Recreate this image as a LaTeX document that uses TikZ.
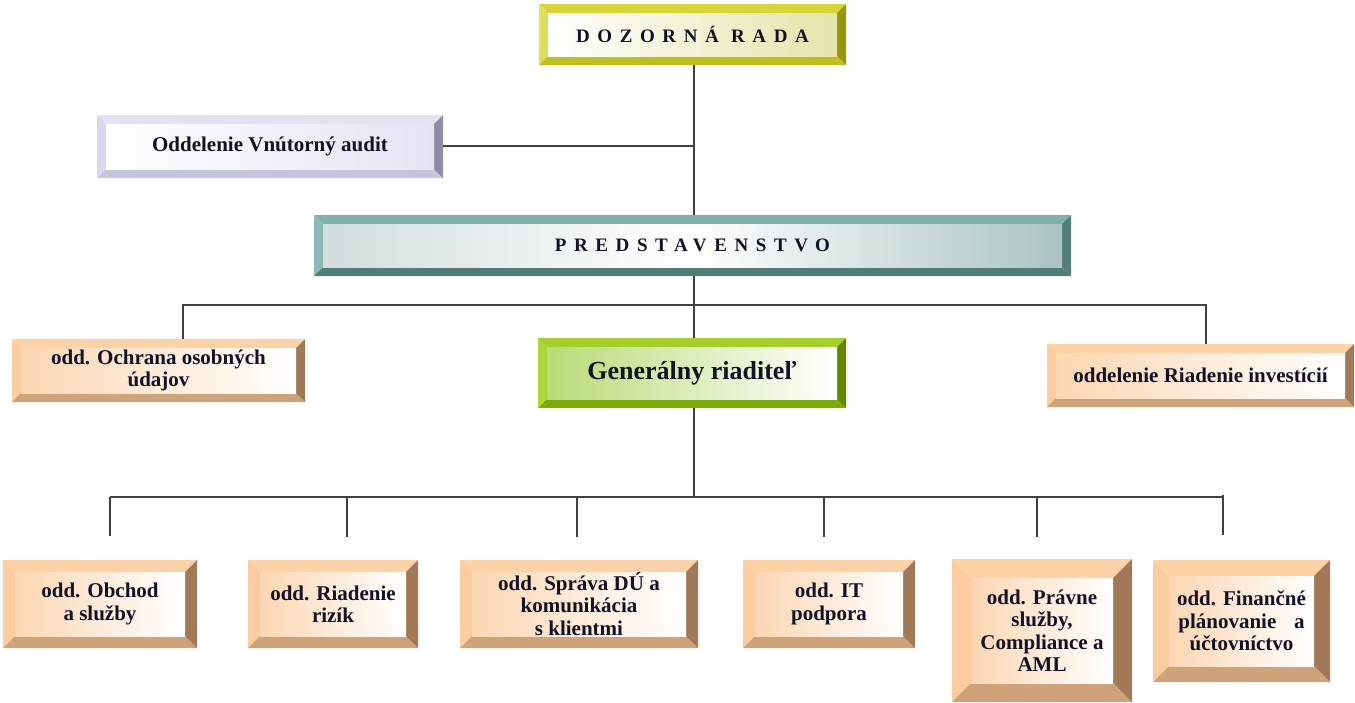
\documentclass[tikz,border=0pt]{standalone}
\usepackage{fontspec}
\setmainfont{Liberation Serif}
\newfontfamily\spacedfont[LetterSpace=40]{Liberation Serif}
\usetikzlibrary{calc}
\definecolor{txt}{RGB}{18,18,38}
\definecolor{lc}{RGB}{64,64,64}
% yellow-olive
\definecolor{yT}{RGB}{214,214,58}
\definecolor{yL}{RGB}{222,222,90}
\definecolor{yR}{RGB}{150,150,12}
\definecolor{yB}{RGB}{190,190,28}
\definecolor{yS}{RGB}{228,228,170}
% lavender
\definecolor{lT}{RGB}{226,226,242}
\definecolor{lL}{RGB}{216,216,236}
\definecolor{lR}{RGB}{140,140,166}
\definecolor{lB}{RGB}{196,196,222}
\definecolor{lS}{RGB}{228,228,244}
% teal
\definecolor{tT}{RGB}{130,176,171}
\definecolor{tL}{RGB}{142,184,179}
\definecolor{tR}{RGB}{86,126,121}
\definecolor{tB}{RGB}{82,124,119}
\definecolor{tS}{RGB}{210,222,220}
\definecolor{tS2}{RGB}{170,196,193}
% green
\definecolor{gT}{RGB}{166,206,42}
\definecolor{gL}{RGB}{176,212,62}
\definecolor{gR}{RGB}{96,136,0}
\definecolor{gB}{RGB}{126,170,12}
\definecolor{gS}{RGB}{186,218,120}
% orange
\definecolor{oT}{RGB}{252,210,166}
\definecolor{oL}{RGB}{250,204,160}
\definecolor{oR}{RGB}{160,122,88}
\definecolor{oB}{RGB}{206,163,122}
\definecolor{oS}{RGB}{252,214,178}
\begin{document}
\begin{tikzpicture}[x=1pt,y=-1pt,
  bevw/.store in=\bevw, bevw=9pt,
  bevbox/.style={fill=white, draw=none, inner sep=0pt, align=center, text=txt,
    path picture={
      \coordinate (pNW) at (path picture bounding box.north west);
      \coordinate (pNE) at (path picture bounding box.north east);
      \coordinate (pSW) at (path picture bounding box.south west);
      \coordinate (pSE) at (path picture bounding box.south east);
      \coordinate (iNW) at ([shift={(\bevw,-\bevw)}]pNW);
      \coordinate (iNE) at ([shift={(-\bevw,-\bevw)}]pNE);
      \coordinate (iSW) at ([shift={(\bevw,\bevw)}]pSW);
      \coordinate (iSE) at ([shift={(-\bevw,\bevw)}]pSE);
      \fill[bevT] (pNW)--(pNE)--(iNE)--(iNW)--cycle;
      \fill[bevL] (pNW)--(iNW)--(iSW)--(pSW)--cycle;
      \fill[bevB] (pSW)--(iSW)--(iSE)--(pSE)--cycle;
      \fill[bevR] (pNE)--(pSE)--(iSE)--(iNE)--cycle;
      \shade[bevS] (iNW) rectangle (iSE);
    }},
  yel/.style={bevT/.style={fill=yT}, bevL/.style={fill=yL}, bevR/.style={fill=yR}, bevB/.style={fill=yB}, bevS/.style={left color=white, right color=yS}},
  lav/.style={bevT/.style={fill=lT}, bevL/.style={fill=lL}, bevR/.style={fill=lR}, bevB/.style={fill=lB}, bevS/.style={left color=white, right color=lS}},
  teal/.style={bevT/.style={fill=tT}, bevL/.style={fill=tL}, bevR/.style={fill=tR}, bevB/.style={fill=tB}, bevS/.style={left color=tS, right color=tS2, middle color=white}},
  grn/.style={bevT/.style={fill=gT}, bevL/.style={fill=gL}, bevR/.style={fill=gR}, bevB/.style={fill=gB}, bevS/.style={left color=gS, right color=white}},
  org/.style={bevT/.style={fill=oT}, bevL/.style={fill=oL}, bevR/.style={fill=oR}, bevB/.style={fill=oB}, bevS/.style={left color=oS, right color=white}},
  ftitle/.style={font=\spacedfont\fontsize{19}{21}\selectfont\bfseries},
  fbox/.style={font=\fontsize{21}{22.5}\selectfont\bfseries},
  fbig/.style={font=\fontsize{26}{28}\selectfont\bfseries},
  conn/.style={draw=lc, line width=1.4pt}
]
\fill[white] (0,0) rectangle (1355,702);
\path[use as bounding box] (0,0) rectangle (1355,702);

\node[bevbox, yel, ftitle, minimum width=307pt, minimum height=61pt] (dr) at (692.5,34.5) {DOZORNÁ RADA};
\node[bevbox, lav, fbox, minimum width=346pt, minimum height=63pt] (audit) at (270,146.5) {Oddelenie Vnútorný audit};
\node[bevbox, teal, ftitle, minimum width=757pt, minimum height=61pt] (pred) at (692.5,245.5) {PREDSTAVENSTVO};
\node[bevbox, org, fbox, minimum width=293pt, minimum height=63pt] (ochr) at (158.5,370.5) {odd. Ochrana osobných\\údajov};
\node[bevbox, grn, fbig, minimum width=308pt, minimum height=70pt] (gr) at (692,373) {Generálny riaditeľ};
\node[bevbox, org, fbox, minimum width=307pt, minimum height=63pt] (inv) at (1200.5,375.5) {oddelenie Riadenie investícií};

\node[bevbox, org, fbox, bevw=12pt, minimum width=194pt, minimum height=88pt] (obch) at (100,604) {odd. Obchod\\a služby};
\node[bevbox, org, fbox, bevw=12pt, minimum width=170pt, minimum height=88pt] (riz) at (333,604) {odd. Riadenie\\rizík};
\node[bevbox, org, fbox, bevw=12pt, minimum width=238pt, minimum height=88pt] (spr) at (579,604) {odd. Správa DÚ a\\komunikácia\\s klientmi};
\node[bevbox, org, fbox, bevw=12pt, minimum width=172pt, minimum height=88pt] (it) at (829,604) {odd. IT\\podpora};
\node[bevbox, org, fbox, bevw=19pt, minimum width=180pt, minimum height=143pt] (prav) at (1042,630.5) {odd. Právne\\služby,\\Compliance a\\AML};
\node[bevbox, org, fbox, bevw=16pt, minimum width=177pt, minimum height=122pt] (fin) at (1241.5,621) {odd. Finančné\\plánovanie\hspace{0.85em}a\\účtovníctvo};

% connectors
\coordinate (ja) at (694,146);
\draw[conn] (dr.south -| ja) -- (pred.north -| ja);
\draw[conn] (audit.east |- ja) -- (ja);
\draw[conn] (pred.south -| ja) -- (gr.north -| ja);
\coordinate (bl) at (183,305);
\coordinate (br) at (1206,305);
\draw[conn] (ochr.north -| bl) -- (bl) -- (br) -- (inv.north -| br);
\coordinate (b2) at (694,497);
\draw[conn] (gr.south -| b2) -- (b2);
\coordinate (t1) at (110,497);
\coordinate (t6) at (1223,497);
\draw[conn] (t1) -- (t6);
\coordinate (d1) at (110,536);
\coordinate (d2) at (347,537);
\coordinate (d3) at (577,537);
\coordinate (d4) at (824,537);
\coordinate (d5) at (1037,537);
\coordinate (d6) at (1223,535);
\draw[conn] (t1) -- (d1);
\draw[conn] (t1 -| d2) -- (d2);
\draw[conn] (t1 -| d3) -- (d3);
\draw[conn] (t1 -| d4) -- (d4);
\draw[conn] (t1 -| d5) -- (d5);
\draw[conn] ([yshift=2pt]t6) -- (d6);
\end{tikzpicture}
\end{document}
